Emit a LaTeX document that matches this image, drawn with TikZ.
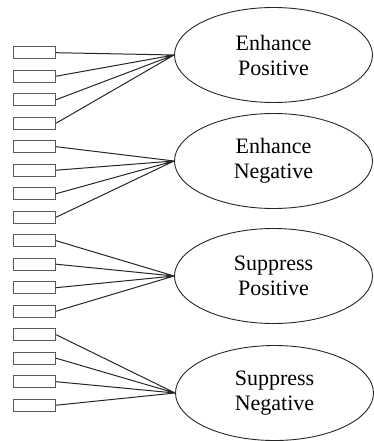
\documentclass[tikz,border=0pt]{standalone}
\usepackage{fontspec}
\setmainfont{Liberation Serif}
\usetikzlibrary{positioning, shapes.geometric}
\tikzset{
	node distance=10.3pt and 1.5cm,
	item/.style= {
		rectangle,
		draw=black!65,
		line width=1.2pt,
		minimum width=42pt,
		minimum height=12pt,
		inner sep=0,
	},
	factor/.style= {
		ellipse,
		draw=black!85,
		line width=0.9pt,
		minimum width=198pt,
		minimum height=95pt,
		inner sep=0,
		align=center,
		font=\fontsize{22}{25}\selectfont,
	},
	load/.style= {
		draw=black!85,
		line width=1pt,
	},
}

\begin{document}
\begin{tikzpicture}[x=1pt, y=-1pt]
		\useasboundingbox (0,0) rectangle (374,441);

		\node (i1) [item] at (34.5,52.7) {};
		\node (i2) [item, below=of i1] {};
		\node (i3) [item, below=of i2] {};
		\node (i4) [item, below=of i3] {};
		\node (i5) [item, below=of i4] {};
		\node (i6) [item, below=of i5] {};
		\node (i7) [item, below=of i6] {};
		\node (i8) [item, below=of i7] {};
		\node (i9) [item, below=of i8] {};
		\node (i10) [item, below=of i9] {};
		\node (i11) [item, below=of i10] {};
		\node (i12) [item, below=of i11] {};
		\node (i13) [item, below=of i12] {};
		\node (i14) [item, below=of i13] {};
		\node (i15) [item, below=of i14] {};
		\node (i16) [item, below=of i15] {};

		\node (enhpos) [factor] at (273.5,55) {Enhance\\Positive};
		\node (enhneg) [factor] at (273.5,161) {Enhance\\Negative};
		\node (suppos) [factor] at (273.5,276) {Suppress\\Positive};
		\node (supneg) [factor] at (274.5,393) {Suppress\\Negative};

		\draw[load] (i1.east) -- (enhpos.west) (i2.east) -- (enhpos.west)
			(i3.east) -- (enhpos.west) (i4.east) -- (enhpos.west);
		\draw[load] (i5.east) -- (enhneg.west) (i6.east) -- (enhneg.west)
			(i7.east) -- (enhneg.west) (i8.east) -- (enhneg.west);
		\draw[load] (i9.east) -- (suppos.west) (i10.east) -- (suppos.west)
			(i11.east) -- (suppos.west) (i12.east) -- (suppos.west);
		\draw[load] (i13.east) -- (supneg.west) (i14.east) -- (supneg.west)
			(i15.east) -- (supneg.west) (i16.east) -- (supneg.west);
	\end{tikzpicture}
\end{document}
